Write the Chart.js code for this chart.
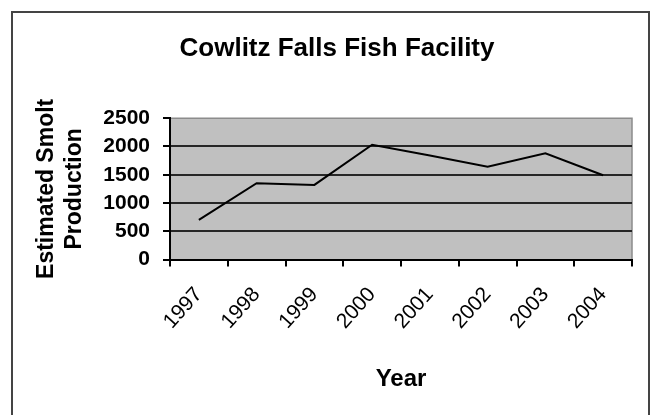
<!DOCTYPE html>
<html>
<head>
<meta charset="utf-8">
<script src="https://cdn.jsdelivr.net/npm/chart.js@4.4.0/dist/chart.umd.min.js"></script>
<style>
  html, body { margin: 0; padding: 0; background: #fff; }
</style>
</head>
<body>
<canvas id="chart" width="651" height="415"></canvas>
<script>
// data
const years = ['1997', '1998', '1999', '2000', '2001', '2002', '2003', '2004'];
const smolts = [700, 1350, 1320, 2030, 1840, 1640, 1880, 1490];
const yTicks = [0, 500, 1000, 1500, 2000, 2500];

const FONT = "'Liberation Sans', Arial, sans-serif";

// white page, outer frame and grey plot area
const frame = {
    id: 'frame',
    beforeDraw(chart) {
        const ctx = chart.ctx;
        const a = chart.chartArea;
        ctx.save();
        ctx.fillStyle = '#fff';
        ctx.fillRect(0, 0, chart.width, chart.height);
        ctx.strokeStyle = '#444';
        ctx.lineWidth = 2;
        ctx.strokeRect(12, 12, 637, 420);
        ctx.fillStyle = '#c0c0c0';
        ctx.fillRect(a.left, a.top, a.right - a.left, a.bottom - a.top);
        ctx.strokeStyle = '#8c8c8c';
        ctx.lineWidth = 1.5;
        ctx.beginPath();
        ctx.moveTo(a.left, a.top);
        ctx.lineTo(a.right, a.top);
        ctx.lineTo(a.right, a.bottom);
        ctx.stroke();
        ctx.restore();
    }
};

let ctx = document.getElementById('chart').getContext('2d');
let chart = new Chart(ctx, {
    type: 'line',
    data: {
        labels: years,
        datasets: [{
            label: 'Estimated Smolt Production',
            data: smolts,
            borderColor: '#000',
            borderWidth: 2,
            pointRadius: 0,
            fill: false,
            tension: 0
        }]
    },
    options: {
        responsive: false,
        animation: false,
        layout: {
            padding: { left: 42, right: 19, top: 12, bottom: 0 }
        },
        plugins: {
            legend: { display: false },
            tooltip: { enabled: false },
            title: {
                display: true,
                text: 'Cowlitz Falls Fish Facility',
                color: '#000',
                font: { family: FONT, size: 26, weight: 'bold', lineHeight: 1.2 },
                padding: { top: 21, bottom: 54 }
            }
        },
        scales: {
            x: {
                offset: true,
                afterFit(scale) { scale.height = 155.5; },
                border: { display: true, color: '#000', width: 2 },
                grid: {
                    offset: true,
                    drawOnChartArea: false,
                    drawTicks: true,
                    tickLength: 7,
                    color: '#000',
                    lineWidth: 2
                },
                ticks: {
                    minRotation: 48,
                    maxRotation: 48,
                    padding: 16,
                    color: '#000',
                    font: { family: FONT, size: 21 }
                },
                title: {
                    display: true,
                    text: 'Year',
                    color: '#000',
                    font: { family: FONT, size: 24, weight: 'bold', lineHeight: 1.2 },
                    padding: { top: 0, bottom: 21 }
                }
            },
            y: {
                min: 0,
                max: 2500,
                afterFit(scale) { scale.width = 128; },
                afterBuildTicks(scale) {
                    scale.ticks = yTicks.map(v => ({ value: v }));
                },
                border: { display: true, color: '#000', width: 2 },
                grid: {
                    color: c => (c.tick && c.tick.value === 2500) ? 'rgba(0,0,0,0)' : '#262626',
                    tickColor: '#000',
                    lineWidth: 2,
                    tickLength: 7
                },
                ticks: {
                    padding: 13,
                    color: '#000',
                    font: { family: FONT, size: 21, weight: 'bold' },
                    callback: v => String(v)
                },
                title: {
                    display: true,
                    text: ['Estimated Smolt', 'Production'],
                    color: '#000',
                    font: { family: FONT, size: 23, weight: 'bold', lineHeight: 1.22 },
                    padding: { top: -9, bottom: 0 }
                }
            }
        }
    },
    plugins: [frame]
});
</script>
</body>
</html>
